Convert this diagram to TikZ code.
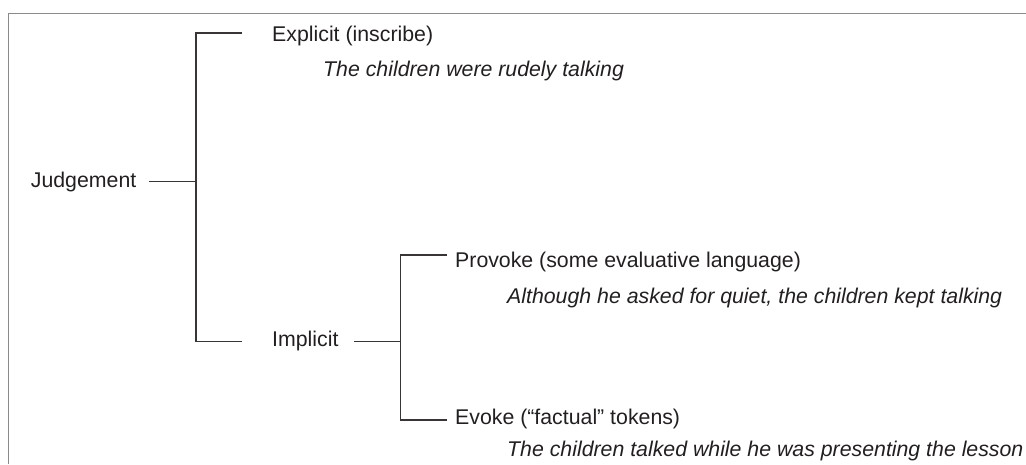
\documentclass[tikz,border=0pt]{standalone}
\usepackage{fontspec}
\setmainfont{Liberation Sans}
\definecolor{ink}{HTML}{231F20}
\definecolor{framegray}{HTML}{8A8A8A}
\begin{document}
\begin{tikzpicture}[x=1pt,y=-1pt,
  label/.style={anchor=base west,inner sep=0pt,text=ink,
    font=\fontsize{21.3}{25}\selectfont},
  example/.style={label,font=\fontsize{21.3}{25}\selectfont\itshape},
  branch/.style={draw=ink!90,line width=1.1pt},
  frame/.style={draw=framegray,line width=1.6pt}]
\useasboundingbox (0,0) rectangle (1026,464);

% open frame: top and left edges only
\coordinate (fBL) at (8.3,464);
\coordinate (fTL) at (8.3,13.6);
\coordinate (fTR) at (1026,13.6);
\draw[frame] (fBL) -- (fTL) -- (fTR);

% labels
\node[label]   (judg)  at (30.7,187.3) {Judgement};
\node[label]   (expl)  at (272,41.5)   {Explicit (inscribe)};
\node[example] (explx) at (323,76)     {The children were rudely talking};
\node[label]   (impl)  at (272,346.7)  {Implicit};
\node[label]   (prov)  at (455,267.3)  {Provoke (some evaluative language)};
\node[example] (provx) at (507,303.3)  {Although he asked for quiet, the children kept talking};
\node[label]   (evok)  at (455,424)    {Evoke (“factual” tokens)};
\node[example] (evokx) at (507,456.7)  {The children talked while he was presenting the lesson};

% first bracket: Judgement -> Explicit / Implicit
\coordinate (jStub)  at (149,181.7);
\coordinate (jMid)   at (196,181.7);
\coordinate (jTop)   at (196,33);
\coordinate (jBot)   at (196,341.7);
\coordinate (eStub)  at (242,33);
\coordinate (iStub)  at (242,341.7);
\draw[branch] (jStub) -- (jMid);
\draw[branch] (eStub) -- (jTop) -- (jBot) -- (iStub);

% second bracket: Implicit -> Provoke / Evoke
\coordinate (kStub)  at (354,341.7);
\coordinate (kMid)   at (400.5,341.7);
\coordinate (kTop)   at (400.5,255);
\coordinate (kBot)   at (400.5,420);
\coordinate (pStub)  at (447,255);
\coordinate (vStub)  at (447,420);
\draw[branch] (kStub) -- (kMid);
\draw[branch] (pStub) -- (kTop) -- (kBot) -- (vStub);
\end{tikzpicture}
\end{document}
